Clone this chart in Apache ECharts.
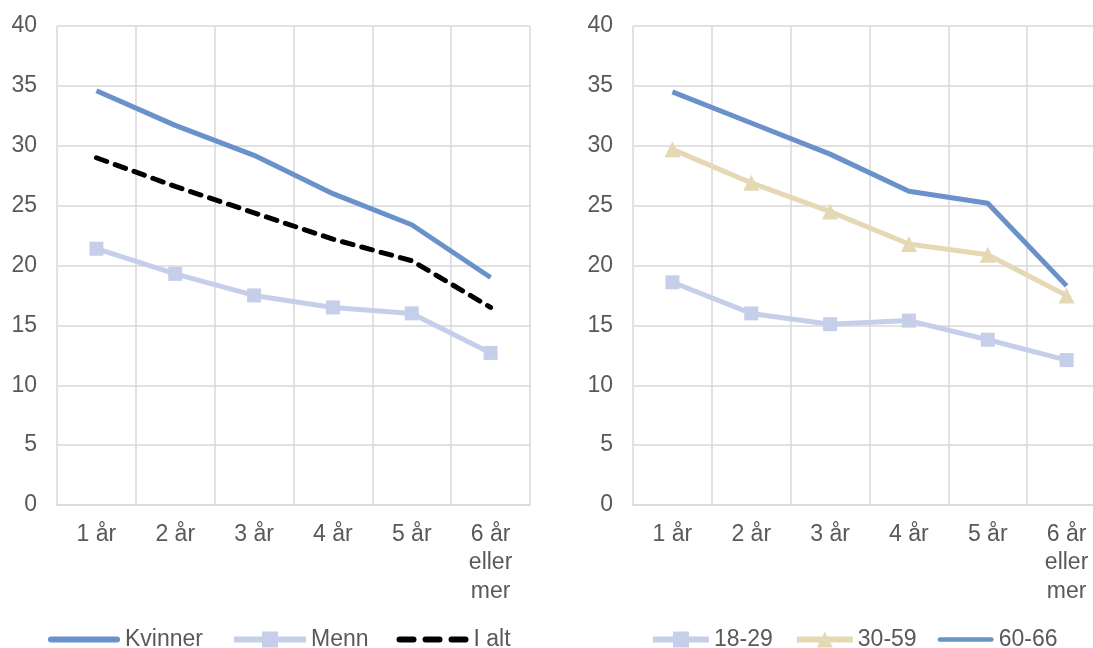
<!DOCTYPE html>
<html><head><meta charset="utf-8">
<script src="https://cdn.jsdelivr.net/npm/echarts@6/dist/echarts.min.js"></script>
<style>html,body{margin:0;padding:0;background:#fff}#c{width:1093px;height:648px}</style>
</head><body><div id="c"></div>
<script>
const categories = ['1 år','2 år','3 år','4 år','5 år','6 år\neller\nmer'];
const kvinner = [34.6, 31.7, 29.2, 26.0, 23.4, 19.0];
const menn    = [21.4, 19.3, 17.5, 16.5, 16.0, 12.7];
const iAlt    = [29.0, 26.6, 24.4, 22.2, 20.4, 16.5];
const age1829 = [18.6, 16.0, 15.1, 15.4, 13.8, 12.1];
const age3059 = [29.7, 26.9, 24.5, 21.8, 20.9, 17.5];
const age6066 = [34.5, 31.9, 29.3, 26.2, 25.2, 18.3];

const BLUE='#6b91cb', LIGHT='#c5cfea', BEIGE='#e5d8b4';
const font = 'Liberation Sans, Arial, sans-serif';
const gridLine = {show:true, lineStyle:{color:'#d9d9d9', width:1.5}};
function xA(i){return {type:'category', gridIndex:i, data:categories, boundaryGap:true,
  axisLine:{show:true, lineStyle:{color:'#d9d9d9', width:1.5}}, axisTick:{show:false},
  splitLine:gridLine,
  axisLabel:{color:'#595959', fontSize:23, fontFamily:font, margin:15, lineHeight:28.5, interval:0}};}
function yA(i){return {type:'value', gridIndex:i, min:0, max:40, interval:5,
  axisLine:{show:false}, axisTick:{show:false}, splitLine:gridLine,
  axisLabel:{color:'#595959', fontSize:23, fontFamily:font, margin:20}};}
function ln(name, data, color, idx, extra){
  return Object.assign({name, type:'line', data, xAxisIndex:idx, yAxisIndex:idx,
    symbol:'none', lineStyle:{color, width:5}, itemStyle:{color}, animation:false}, extra||{});
}
function pill(a, b){ return 'M'+(a+3)+',0 L'+(b-3)+',0 A3,3 0 0 1 '+(b-3)+',6 L'+(a+3)+',6 A3,3 0 0 1 '+(a+3)+',0 Z '; }
const solidIcon = 'path://' + pill(0, 72);
const dashIcon = 'path://' + pill(0, 20) + pill(26, 46) + pill(52, 72);
const legText = {color:'#595959', fontSize:23, fontFamily:font};
const chart = echarts.init(document.getElementById('c'));
chart.setOption({
  animation:false,
  grid:[{left:57, width:473, top:26, bottom:143, outerBoundsMode:'none'},
        {left:633, width:473, top:26, bottom:143, outerBoundsMode:'none'}],
  xAxis:[xA(0), xA(1)],
  yAxis:[yA(0), yA(1)],
  legend:[
    {data:[{name:'Kvinner', icon:solidIcon},{name:'Menn'},{name:'I alt', icon:dashIcon}],
     left:48, top:628, itemWidth:72, itemHeight:20, itemGap:28, padding:0,
     lineStyle:{width:6}, textStyle:legText},
    {data:[{name:'18-29'},{name:'30-59'},{name:'60-66', icon:solidIcon}],
     left:650, top:628, itemWidth:56, itemHeight:20, itemGap:21, padding:0,
     lineStyle:{width:6}, textStyle:legText}
  ],
  series:[
    ln('Kvinner', kvinner, BLUE, 0),
    ln('Menn', menn, LIGHT, 0, {symbol:'rect', symbolSize:14}),
    ln('I alt', iAlt, '#000', 0, {lineStyle:{color:'#000', width:5, type:[11,9], cap:'round'}}),
    ln('18-29', age1829, LIGHT, 1, {symbol:'rect', symbolSize:14}),
    ln('30-59', age3059, BEIGE, 1, {symbol:'triangle', symbolSize:16}),
    ln('60-66', age6066, BLUE, 1)
  ]
});
</script></body></html>
